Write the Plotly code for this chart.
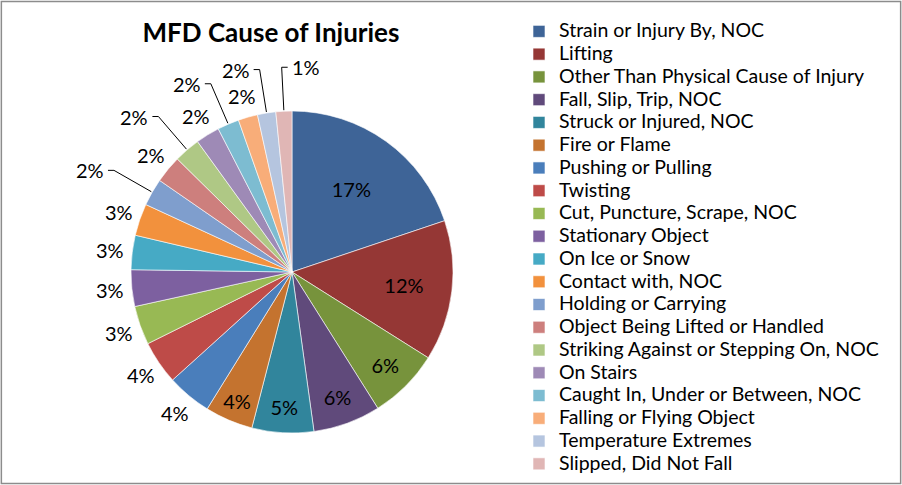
import math
import plotly.graph_objects as go

categories = [
    "Strain or Injury By, NOC", "Lifting", "Other Than Physical Cause of Injury",
    "Fall, Slip, Trip, NOC", "Struck or Injured, NOC", "Fire or Flame",
    "Pushing or Pulling", "Twisting", "Cut, Puncture, Scrape, NOC",
    "Stationary Object", "On Ice or Snow", "Contact with, NOC",
    "Holding or Carrying", "Object Being Lifted or Handled",
    "Striking Against or Stepping On, NOC", "On Stairs",
    "Caught In, Under or Between, NOC", "Falling or Flying Object",
    "Temperature Extremes", "Slipped, Did Not Fall",
]
percent_values = [17.3, 12.3, 6.2, 5.9, 5.4, 4.2, 3.9, 3.8, 3.4, 3.2,
                  3.0, 2.8, 2.4, 2.4, 2.3, 2.1, 1.9, 1.7, 1.6, 1.4]
colors = ["#3E6497", "#953735", "#77933C", "#604A7B", "#31859C", "#C4732F",
          "#4A7EBB", "#BE4B48", "#98B954", "#7D60A0", "#46AAC5", "#F2913D",
          "#7F9ECD", "#CD7F7D", "#AFC885", "#9E8AB6", "#7DBCD1", "#F8AD79",
          "#B5C5DF", "#E0B6B5"]
# label style per slice: inside the slice, just outside, or further out with a leader line
label_style = ["inside"] * 6 + ["near"] * 6 + [
    "far", "near", "far", "near", "far", "near", "far", "far_right"]

FONT = "Lato"
W, H = 902, 485
cx, cy, r = 292, 272, 161  # pie centre / radius in pixels
NEAR, FAR, TICK = 22, 44, 6

legend_labels = ['<span style="font-size:19.5px">%s</span>' % c for c in categories]

fig = go.Figure(go.Pie(
    labels=legend_labels,
    values=percent_values,
    sort=False,
    direction="clockwise",
    rotation=0,
    marker=dict(colors=colors, line=dict(color="#FFFFFF", width=0.6)),
    texttemplate="%{value:.0f}%",
    textposition=["inside" if s == "inside" else "none" for s in label_style],
    insidetextorientation="horizontal",
    textfont=dict(family=FONT, size=20, color="#000000"),
    domain=dict(x=[(cx - 200) / W, (cx + 200) / W],
                y=[1 - (cy + r) / H, 1 - (cy - r) / H]),
    hovertemplate="%{customdata}: %{value}%<extra></extra>",
    customdata=categories,
    showlegend=True,
))


def px(x, y):
    return x / W, 1 - y / H


annotations = []
shapes = []
total = sum(percent_values)
cum = 0.0
for val, style in zip(percent_values, label_style):
    theta = 2 * math.pi * (cum + val / 2) / total
    cum += val
    if style == "inside":
        continue
    sx, sy = math.sin(theta), -math.cos(theta)
    txt = "%d%%" % round(val)
    if style == "near":
        R = r + NEAR
        x, y = px(cx + R * sx, cy + R * sy)
        annotations.append(dict(x=x, y=y, xref="paper", yref="paper", text=txt,
                                showarrow=False, xanchor="center", yanchor="middle",
                                font=dict(family=FONT, size=20, color="#000000")))
    else:
        ex, ey = cx + (r + 1) * sx, cy + (r + 1) * sy
        bx, by = cx + (r + FAR) * sx, cy + (r + FAR) * sy
        d = 1 if style == "far_right" else -1
        tx = bx + d * TICK
        p0, p1, p2 = px(ex, ey), px(bx, by), px(tx, by)
        shapes.append(dict(type="path", xref="paper", yref="paper",
                           path="M %f,%f L %f,%f L %f,%f" % (p0 + p1 + p2),
                           line=dict(color="#000000", width=1)))
        x, y = px(tx + d * 2, by)
        annotations.append(dict(x=x, y=y, xref="paper", yref="paper", text=txt,
                                showarrow=False,
                                xanchor="left" if d > 0 else "right", yanchor="middle",
                                font=dict(family=FONT, size=20, color="#000000")))

shapes.append(dict(type="rect", xref="paper", yref="paper", x0=0.0015, x1=0.9985,
                   y0=0.003, y1=0.997, line=dict(color="#8C8C8C", width=1.5),
                   fillcolor="rgba(0,0,0,0)", layer="above"))

fig.update_layout(
    width=W, height=H,
    margin=dict(l=0, r=0, t=0, b=0),
    paper_bgcolor="#FFFFFF",
    plot_bgcolor="#FFFFFF",
    title=dict(text="<b>MFD Cause of Injuries</b>", x=271 / W, xanchor="center",
               y=1 - 33 / H, yanchor="middle",
               font=dict(family=FONT, size=26, color="#000000")),
    legend=dict(x=519 / W, xanchor="left", y=1 - 15 / H, yanchor="top",
                font=dict(family=FONT, size=15.2, color="#000000"),
                bgcolor="rgba(0,0,0,0)",
                tracegroupgap=0, itemwidth=30),
    annotations=annotations,
    shapes=shapes,
)

fig.write_html("out.html", config={"displayModeBar": False},
               post_script="document.body.style.margin='0';")
